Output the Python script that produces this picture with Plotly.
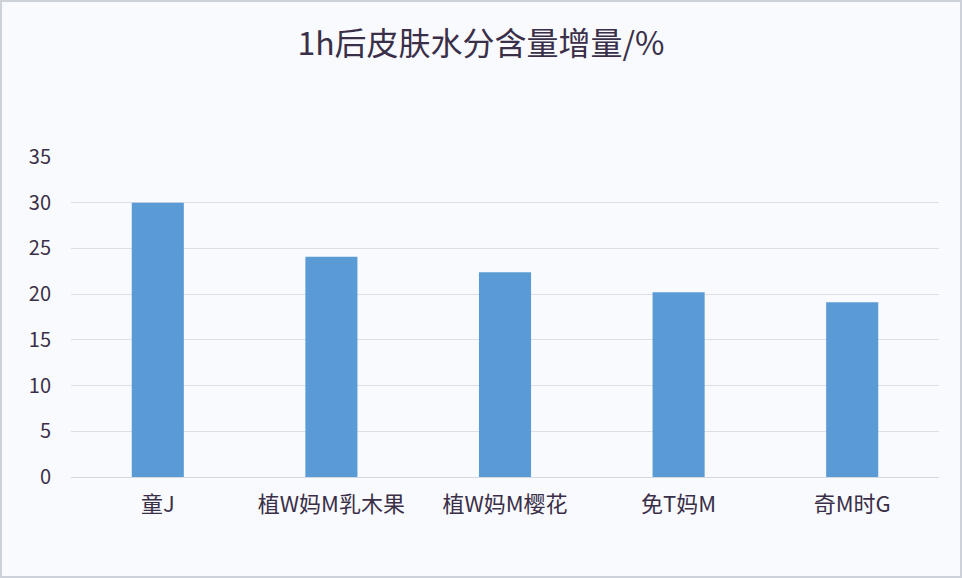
import plotly.graph_objects as go

categories = ["童J", "植W妈M乳木果", "植W妈M樱花", "免T妈M", "奇M时G"]
values = [30.0, 24.1, 22.4, 20.2, 19.1]
tick_vals = [0, 5, 10, 15, 20, 25, 30, 35]

font_family = "Noto Sans CJK SC, Noto Sans, sans-serif"
text_color = "#3a2f48"

fig = go.Figure(go.Bar(
    x=categories, y=values,
    marker=dict(color="#5b9bd5", line=dict(width=0)),
    width=0.3,
))

fig.update_layout(
    width=962, height=578,
    paper_bgcolor="#f9fafd", plot_bgcolor="#f9fafd",
    margin=dict(l=71, r=23, t=157, b=101),
    title=dict(text="1h后皮肤水分含量增量/%", x=0.5, xanchor="center",
               y=1 - 44 / 578, yanchor="middle",
               font=dict(family=font_family, size=32, color=text_color)),
    showlegend=False,
    font=dict(family=font_family, color=text_color),
)
fig.update_yaxes(range=[0, 35], tickvals=tick_vals, showgrid=True,
                 gridcolor="#dcdfe6", gridwidth=1, zeroline=False,
                 showline=False, ticks="", ticklabelstandoff=19,
                 tickfont=dict(size=20, color=text_color))
fig.update_xaxes(showline=True, linecolor="#d3d8e2", linewidth=1,
                 ticks="", ticklabelstandoff=8,
                 tickfont=dict(size=22, color=text_color))
fig.add_shape(type="rect", xref="paper", yref="paper",
              x0=-70/868, x1=1+22/868, y0=-100/320, y1=1+156/320,
              line=dict(color="#cdd1d8", width=2), fillcolor="rgba(0,0,0,0)")

fig.write_html("out.html", config={"displayModeBar": False},
               post_script="document.body.style.margin='0';")
